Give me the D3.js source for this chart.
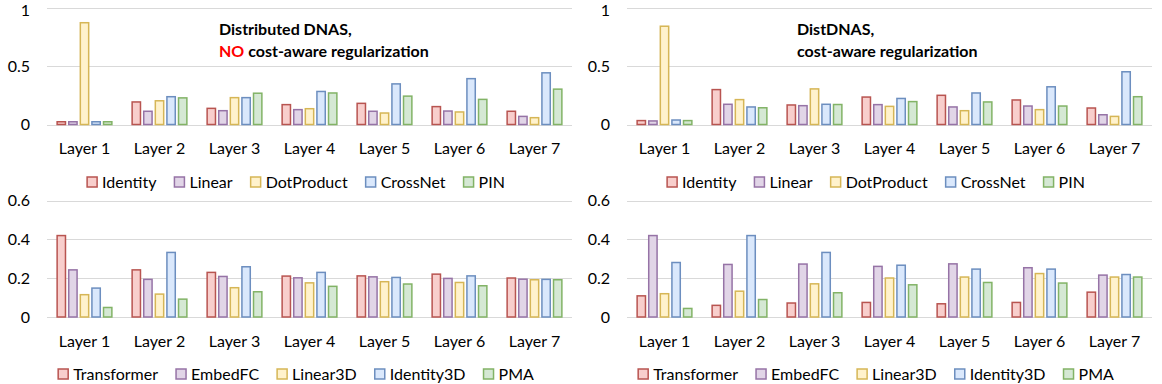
<!DOCTYPE html>
<html>
<head>
<meta charset="utf-8">
<script src="https://cdn.jsdelivr.net/npm/d3@7"></script>
<style>
  body { margin: 0; background: #fff; }
  svg text { font-family: Lato, "Noto Sans", sans-serif; fill: #000; }
</style>
</head>
<body>
<script>
// layers on the x axis
var layers = ["Layer 1", "Layer 2", "Layer 3", "Layer 4", "Layer 5", "Layer 6", "Layer 7"];

// top row series
var topSeries = ["Identity", "Linear", "DotProduct", "CrossNet", "PIN"];
// bottom row series
var bottomSeries = ["Transformer", "EmbedFC", "Linear3D", "Identity3D", "PMA"];

// Distributed DNAS, NO cost-aware regularization (one row per layer)
var topLeft = [
  [0.03, 0.03, 0.88, 0.03, 0.03],
  [0.20, 0.12, 0.21, 0.245, 0.235],
  [0.145, 0.125, 0.237, 0.237, 0.275],
  [0.177, 0.134, 0.142, 0.29, 0.277],
  [0.188, 0.12, 0.105, 0.355, 0.25],
  [0.16, 0.122, 0.114, 0.40, 0.222],
  [0.12, 0.076, 0.065, 0.45, 0.31]
];
// DistDNAS, cost-aware regularization
var topRight = [
  [0.04, 0.037, 0.85, 0.045, 0.04],
  [0.306, 0.18, 0.22, 0.157, 0.15],
  [0.174, 0.168, 0.312, 0.18, 0.178],
  [0.242, 0.177, 0.162, 0.23, 0.203],
  [0.257, 0.157, 0.125, 0.277, 0.20],
  [0.217, 0.165, 0.134, 0.33, 0.165],
  [0.148, 0.09, 0.076, 0.459, 0.245]
];
var bottomLeft = [
  [0.424, 0.247, 0.119, 0.153, 0.053],
  [0.247, 0.198, 0.122, 0.337, 0.096],
  [0.234, 0.213, 0.155, 0.263, 0.134],
  [0.215, 0.206, 0.18, 0.234, 0.162],
  [0.216, 0.211, 0.186, 0.208, 0.174],
  [0.225, 0.203, 0.182, 0.216, 0.165],
  [0.205, 0.199, 0.196, 0.198, 0.196]
];
var bottomRight = [
  [0.113, 0.424, 0.124, 0.285, 0.048],
  [0.064, 0.275, 0.137, 0.424, 0.094],
  [0.076, 0.277, 0.175, 0.337, 0.129],
  [0.079, 0.265, 0.205, 0.271, 0.17],
  [0.072, 0.278, 0.21, 0.251, 0.182],
  [0.079, 0.258, 0.228, 0.251, 0.179],
  [0.132, 0.22, 0.21, 0.223, 0.21]
];

var topTicks = [0, 0.5, 1];
var bottomTicks = [0, 0.2, 0.4, 0.6];

var fills   = ["#f8cecc", "#e1d5e7", "#fff2cc", "#dae8fc", "#d5e8d4"];
var strokes = ["#b85450", "#9673a6", "#d6b656", "#6c8ebf", "#82b366"];

var width = 1162, height = 384;

var svg = d3.select("body").append("svg")
  .attr("width", width)
  .attr("height", height);

function drawPanel(dx, top, bottom, maxY, ticks, values, series, labelY, legendY) {
  var g = svg.append("g").attr("transform", "translate(" + dx + ",0)");

  var y = d3.scaleLinear().domain([0, maxY]).range([bottom, top]);
  var x0 = d3.scaleBand().domain(layers).range([47, 572])
    .paddingInner(0.25).paddingOuter(0.125);
  var x1 = d3.scaleBand().domain(d3.range(series.length))
    .range([0, x0.bandwidth()]).paddingInner(0.15).paddingOuter(0);

  // gridlines
  g.selectAll("line.grid")
    .data(ticks)
    .enter().append("line")
    .attr("x1", 47).attr("x2", 572)
    .attr("y1", function(d) { return Math.round(y(d)) + 0.5; })
    .attr("y2", function(d) { return Math.round(y(d)) + 0.5; })
    .style("stroke", "#d9d9d9")
    .style("stroke-width", 1.2);

  // y tick labels (kept clear of the top edge)
  g.selectAll("text.tick")
    .data(ticks)
    .enter().append("text")
    .attr("x", 30)
    .attr("y", function(d) { return Math.max(y(d), 10); })
    .attr("dy", "0.35em")
    .attr("text-anchor", "end")
    .style("font-size", "16px")
    .text(function(d) { return d3.format("")(d); });

  // bars
  var groups = g.selectAll("g.layer")
    .data(values)
    .enter().append("g")
    .attr("transform", function(d, i) { return "translate(" + x0(layers[i]) + ",0)"; });

  groups.selectAll("rect")
    .data(function(d) { return d; })
    .enter().append("rect")
    .attr("x", function(d, j) { return x1(j) + 0.75; })
    .attr("y", function(d) { return y(d) + 0.75; })
    .attr("width", x1.bandwidth() - 1.5)
    .attr("height", function(d) { return Math.max(0, y(0) - y(d) - 0.75); })
    .style("fill", function(d, j) { return fills[j]; })
    .style("stroke", function(d, j) { return strokes[j]; })
    .style("stroke-width", 1.5);

  // x labels
  g.selectAll("text.xlab")
    .data(layers)
    .enter().append("text")
    .attr("x", function(d) { return x0(d) + x0.bandwidth() / 2; })
    .attr("y", labelY)
    .attr("dy", "0.35em")
    .attr("text-anchor", "middle")
    .style("font-size", "16px")
    .text(function(d) { return d; });

  // legend, centred under the chart
  var leg = g.append("g");
  var items = leg.selectAll("g")
    .data(series)
    .enter().append("g");
  items.append("rect")
    .attr("width", 10).attr("height", 10)
    .attr("y", legendY - 5)
    .style("fill", function(d, j) { return fills[j]; })
    .style("stroke", function(d, j) { return strokes[j]; })
    .style("stroke-width", 1.5);
  items.append("text")
    .attr("x", 15)
    .attr("y", legendY)
    .attr("dy", "0.35em")
    .style("font-size", "16px")
    .text(function(d) { return d; });

  var pos = 0;
  items.each(function() {
    var w = d3.select(this).select("text").node().getComputedTextLength();
    d3.select(this).attr("transform", "translate(" + pos + ",0)");
    pos += 15 + w + 18;
  });
  var total = pos - 18;
  leg.attr("transform", "translate(" + (296 - total / 2) + ",0)");

  return g;
}

var tl = drawPanel(0, 8, 124.5, 1, topTicks, topLeft, topSeries, 148, 182);
var tr = drawPanel(580, 8, 124.5, 1, topTicks, topRight, topSeries, 148, 182);
drawPanel(0, 200.7, 317, 0.6, bottomTicks, bottomLeft, bottomSeries, 341, 374);
drawPanel(580, 200.7, 317, 0.6, bottomTicks, bottomRight, bottomSeries, 341, 374);

// titles
var t1 = tl.append("text")
  .attr("x", 219).attr("y", 35)
  .style("font-size", "16px").style("font-weight", "bold");
t1.append("tspan").text("Distributed DNAS,");
var t1b = tl.append("text")
  .attr("x", 219).attr("y", 57)
  .style("font-size", "16px").style("font-weight", "bold");
t1b.append("tspan").style("fill", "#ff0000").text("NO");
t1b.append("tspan").text(" cost-aware regularization");

tr.append("text")
  .attr("x", 217).attr("y", 35)
  .style("font-size", "16px").style("font-weight", "bold")
  .text("DistDNAS,");
tr.append("text")
  .attr("x", 217).attr("y", 57)
  .style("font-size", "16px").style("font-weight", "bold")
  .text("cost-aware regularization");
</script>
</body>
</html>
